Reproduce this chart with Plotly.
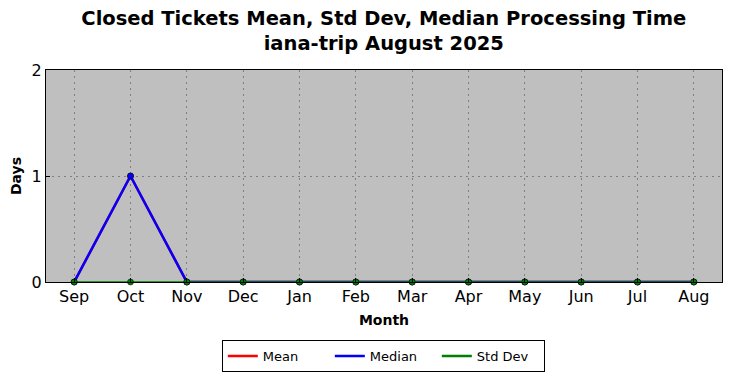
import plotly.graph_objects as go

months = ["Sep", "Oct", "Nov", "Dec", "Jan", "Feb", "Mar", "Apr", "May", "Jun", "Jul", "Aug"]
mean_vals = [0, 1, 0, 0, 0, 0, 0, 0, 0, 0, 0, 0]
median_vals = [0, 1, 0, 0, 0, 0, 0, 0, 0, 0, 0, 0]
std_vals = [0, 0, 0, 0, 0, 0, 0, 0, 0, 0, 0, 0]

series = [("Mean", mean_vals, "red", 2.5),
          ("Median", median_vals, "blue", 2.5),
          ("Std Dev", std_vals, "green", 1.5)]

font = "DejaVu Sans"
fig = go.Figure()
for name, vals, color, w in series:
    fig.add_trace(go.Scatter(x=months, y=vals, name=name, mode="lines+markers",
                             showlegend=False, cliponaxis=False,
                             line=dict(color=color, width=w),
                             marker=dict(size=6, color=color, line=dict(color="black", width=0.5))))
for name, vals, color, w in series:
    fig.add_trace(go.Scatter(x=[None], y=[None], name=name, mode="lines",
                             line=dict(color=color, width=2.5)))

fig.update_layout(
    width=731, height=378,
    margin=dict(l=46, r=9, t=70, b=96, autoexpand=False),
    paper_bgcolor="white", plot_bgcolor="#bfbfbf",
    font=dict(family=font, size=16, color="black"),
    title=dict(text="<b>Closed Tickets Mean, Std Dev, Median Processing Time<br>iana-trip August 2025</b>",
               x=0.525, xanchor="center", yref="container", y=0.935, yanchor="top",
               font=dict(family=font, size=19.5)),
    showlegend=True,
    legend=dict(orientation="h", x=0.499, xanchor="center", y=-0.274, yanchor="top",
                bordercolor="black", borderwidth=1, font=dict(size=13),
                itemwidth=30, entrywidth=62, tracegroupgap=0,
                valign="middle"),
    xaxis=dict(type="category", range=[-0.5, 11.5], showgrid=True, automargin=False,
               gridcolor="#7f7f7f", griddash="2px,4px", gridwidth=1,
               showline=True, linecolor="black", linewidth=1, mirror=True,
               ticks="inside", ticklen=4, tickcolor="black",
               title=dict(text="<b>Month</b>", font=dict(size=14), standoff=9),
               tickfont=dict(size=16)),
    yaxis=dict(range=[0, 2], tickvals=[0, 1, 2], showgrid=True, automargin=False,
               gridcolor="#7f7f7f", griddash="2px,4px", gridwidth=1,
               showline=True, linecolor="black", linewidth=1, mirror=True,
               ticks="inside", ticklen=4, tickcolor="black", zeroline=False,
               title=dict(text="<b>Days</b>", font=dict(size=14), standoff=6),
               tickfont=dict(size=16)),
)
fig.write_html("out.html", config={"displayModeBar": False},
               post_script="document.body.style.margin='0';document.body.style.overflow='hidden';")
